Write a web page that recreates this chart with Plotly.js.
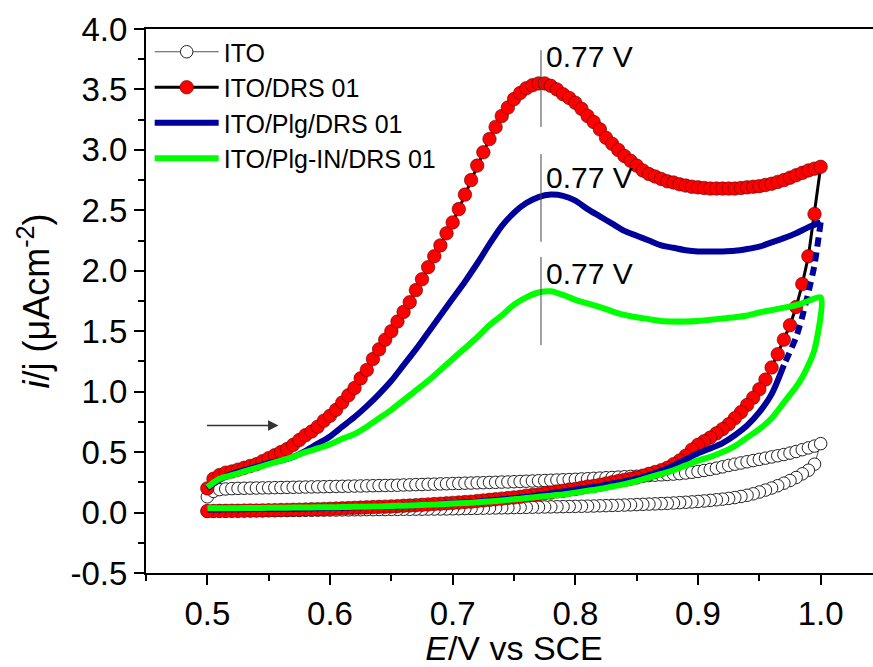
<!DOCTYPE html>
<html>
<head>
<meta charset="utf-8">
<script src="https://cdn.plot.ly/plotly-3.0.1.min.js"></script>
<style>
html,body{margin:0;padding:0;overflow:hidden;background:#fff;}
#chart{width:890px;height:667px;}
</style>
</head>
<body>
<div id="chart"></div>
<script>
// ---- Potentials (V vs SCE) ----
const E_fwd_fine = [0.500,0.505,0.510,0.515,0.520,0.525,0.530,0.535,0.540,0.545,
0.550,0.555,0.560,0.565,0.570,0.575,0.580,0.585,0.590,0.595,
0.600,0.605,0.610,0.615,0.620,0.625,0.630,0.635,0.640,0.645,
0.650,0.655,0.660,0.665,0.670,0.675,0.680,0.685,0.690,0.695,
0.700,0.705,0.710,0.715,0.720,0.725,0.730,0.735,0.740,0.745,
0.750,0.755,0.760,0.765,0.770,0.775,0.780,0.785,0.790,0.795,
0.800,0.805,0.810,0.815,0.820,0.825,0.830,0.835,0.840,0.845,
0.850,0.855,0.860,0.865,0.870,0.875,0.880,0.885,0.890,0.895,
0.900,0.905,0.910,0.915,0.920,0.925,0.930,0.935,0.940,0.945,
0.950,0.955,0.960,0.965,0.970,0.975,0.980,0.985,0.990,0.995,
1.000];
const E_rev_fine = [0.995,0.990,0.985,0.980,0.975,0.970,0.965,0.960,0.955,0.950,
0.945,0.940,0.935,0.930,0.925,0.920,0.915,0.910,0.905,0.900,
0.895,0.890,0.885,0.880,0.875,0.870,0.865,0.860,0.855,0.850,
0.845,0.840,0.835,0.830,0.825,0.820,0.815,0.810,0.805,0.800,
0.795,0.790,0.785,0.780,0.775,0.770,0.765,0.760,0.755,0.750,
0.745,0.740,0.735,0.730,0.725,0.720,0.715,0.710,0.705,0.700,
0.695,0.690,0.685,0.680,0.675,0.670,0.665,0.660,0.655,0.650,
0.645,0.640,0.635,0.630,0.625,0.620,0.615,0.610,0.605,0.600,
0.595,0.590,0.585,0.580,0.575,0.570,0.565,0.560,0.555,0.550,
0.545,0.540,0.535,0.530,0.525,0.520,0.515,0.510,0.505,0.500];
const E_fwd = [0.50,0.51,0.52,0.53,0.54,0.55,0.56,0.57,0.58,0.59,
0.60,0.61,0.62,0.63,0.64,0.65,0.66,0.67,0.68,0.69,
0.70,0.71,0.72,0.73,0.74,0.75,0.76,0.77,0.78,0.79,
0.80,0.81,0.82,0.83,0.84,0.85,0.86,0.87,0.88,0.89,
0.90,0.91,0.92,0.93,0.94,0.95,0.96,0.97,0.98,0.99,1.00];
const E_rev = [0.995,0.99,0.985,0.98,
0.97,0.96,0.95,0.94,0.93,0.92,0.91,0.90,0.89,0.88,
0.87,0.86,0.85,0.84,0.83,0.82,0.81,0.80,0.79,0.78,
0.77,0.76,0.75,0.74,0.73,0.72,0.71,0.70,0.69,0.68,
0.67,0.66,0.65,0.64,0.63,0.62,0.61,0.60,0.59,0.58,
0.57,0.56,0.55,0.54,0.53,0.52,0.51,0.50];

// ---- Currents (uA cm^-2) ----
const ito_fwd = [0.13,0.175,0.19,0.195,0.198,0.20,0.201,0.202,0.203,0.204,
0.205,0.206,0.207,0.208,0.209,0.21,0.211,0.212,0.213,0.214,
0.215,0.216,0.217,0.218,0.219,0.22,0.221,0.222,0.223,0.224,
0.225,0.226,0.228,0.229,0.231,0.232,0.234,0.235,0.237,0.238,
0.24,0.241,0.243,0.244,0.246,0.247,0.249,0.25,0.252,0.253,
0.255,0.257,0.259,0.261,0.263,0.265,0.267,0.269,0.271,0.273,
0.275,0.278,0.28,0.283,0.285,0.288,0.29,0.293,0.296,0.299,
0.30,0.303,0.306,0.309,0.312,0.315,0.318,0.322,0.327,0.333,
0.34,0.348,0.357,0.367,0.378,0.39,0.40,0.41,0.42,0.43,
0.44,0.45,0.46,0.47,0.48,0.492,0.505,0.52,0.535,0.55,
0.57];
const ito_rev = [0.40,0.35,0.32,0.29,0.265,0.243,0.222,0.203,0.186,0.17,
0.155,0.143,0.133,0.124,0.117,0.111,0.106,0.101,0.096,0.092,
0.088,0.085,0.082,0.079,0.076,0.074,0.072,0.07,0.068,0.066,
0.064,0.062,0.06,0.059,0.057,0.056,0.054,0.053,0.052,0.051,
0.05,0.049,0.048,0.047,0.046,0.045,0.044,0.043,0.042,0.041,
0.04,0.039,0.038,0.037,0.036,0.035,0.034,0.033,0.032,0.031,
0.030,0.030,0.029,0.029,0.028,0.028,0.027,0.027,0.026,0.026,
0.025,0.025,0.024,0.024,0.023,0.023,0.022,0.022,0.021,0.021,
0.020,0.020,0.019,0.019,0.018,0.018,0.017,0.017,0.016,0.016,
0.015,0.015,0.014,0.014,0.013,0.013,0.012,0.012,0.011,0.011];

const drs_fwd = [0.20,0.28,0.31,0.33,0.34,0.355,0.37,0.385,0.40,0.425,
0.45,0.475,0.50,0.525,0.56,0.60,0.64,0.67,0.71,0.76,
0.80,0.85,0.91,0.97,1.03,1.11,1.18,1.27,1.35,1.43,
1.50,1.58,1.66,1.74,1.84,1.93,2.03,2.12,2.21,2.31,
2.40,2.51,2.63,2.75,2.87,2.98,3.09,3.19,3.28,3.35,
3.42,3.47,3.51,3.535,3.55,3.55,3.53,3.50,3.46,3.43,
3.39,3.34,3.28,3.23,3.17,3.10,3.05,3.00,2.95,2.91,
2.87,2.83,2.80,2.78,2.76,2.74,2.73,2.715,2.705,2.695,
2.69,2.685,2.68,2.68,2.68,2.68,2.68,2.685,2.69,2.695,
2.70,2.71,2.72,2.735,2.75,2.77,2.79,2.81,2.83,2.845,
2.86];
const drs_rev = [2.47,2.12,1.89,1.70,1.55,1.43,1.31,1.20,1.10,1.02,
0.95,0.89,0.83,0.78,0.73,0.69,0.655,0.62,0.59,0.56,
0.52,0.47,0.43,0.40,0.37,0.35,0.335,0.32,0.305,0.29,
0.28,0.27,0.26,0.25,0.24,0.23,0.22,0.215,0.205,0.195,
0.19,0.18,0.175,0.165,0.16,0.15,0.145,0.14,0.13,0.125,
0.12,0.115,0.11,0.105,0.10,0.095,0.09,0.087,0.083,0.08,
0.076,0.073,0.07,0.067,0.064,0.061,0.058,0.056,0.053,0.051,
0.049,0.047,0.045,0.043,0.041,0.039,0.037,0.035,0.033,0.031,
0.03,0.028,0.027,0.025,0.024,0.023,0.022,0.021,0.02,0.019,
0.018,0.017,0.017,0.016,0.015,0.015,0.014,0.014,0.013,0.012];

const plg_fwd = [0.20,0.27,0.32,0.35,0.38,0.41,0.43,0.46,0.51,0.57,
0.63,0.71,0.79,0.88,0.98,1.09,1.22,1.35,1.49,1.63,
1.77,1.91,2.06,2.22,2.37,2.48,2.56,2.61,2.63,2.62,
2.58,2.51,2.45,2.39,2.33,2.29,2.25,2.21,2.19,2.17,
2.16,2.16,2.16,2.165,2.18,2.20,2.235,2.27,2.31,2.36,2.40];
const plg_rev = [2.05,1.82,1.62,1.45,
1.22,0.98,0.83,0.72,0.64,0.575,0.53,0.49,0.44,0.39,
0.345,0.31,0.28,0.26,0.24,0.22,0.205,0.19,0.175,0.16,
0.145,0.13,0.12,0.11,0.10,0.09,0.085,0.078,0.072,0.066,
0.061,0.057,0.053,0.049,0.046,0.043,0.04,0.038,0.036,0.034,
0.032,0.031,0.03,0.029,0.028,0.027,0.026,0.025];

const plgin_fwd = [0.21,0.28,0.31,0.34,0.37,0.40,0.43,0.46,0.50,0.53,
0.565,0.61,0.65,0.71,0.78,0.85,0.93,1.01,1.09,1.18,
1.27,1.36,1.45,1.55,1.63,1.72,1.78,1.82,1.83,1.80,
1.76,1.73,1.70,1.665,1.635,1.615,1.60,1.585,1.58,1.58,
1.585,1.595,1.605,1.615,1.63,1.655,1.675,1.695,1.715,1.75,1.78];
const plgin_rev = [1.35,1.22,1.12,1.04,
0.91,0.78,0.69,0.62,0.55,0.50,0.46,0.43,0.39,0.35,
0.32,0.29,0.26,0.235,0.215,0.195,0.18,0.165,0.15,0.14,
0.13,0.12,0.11,0.10,0.092,0.085,0.079,0.074,0.069,0.064,
0.06,0.057,0.054,0.051,0.049,0.047,0.045,0.044,0.043,0.042,
0.041,0.04,0.039,0.038,0.037,0.036,0.035,0.035];

const seriesNames = ['ITO','ITO/DRS 01','ITO/Plg/DRS 01','ITO/Plg-IN/DRS 01'];

// Axis ticks
const xTickVals = [0.5,0.6,0.7,0.8,0.9,1.0];
const xTickText = ['0.5','0.6','0.7','0.8','0.9','1.0'];
const yTickVals = [-0.5,0,0.5,1.0,1.5,2.0,2.5,3.0,3.5,4.0];
const yTickText = ['-0.5','0.0','0.5','1.0','1.5','2.0','2.5','3.0','3.5','4.0'];

// Peak annotations
const peakE = [0.772,0.772,0.772];
const peakLineTop = [3.825,2.965,2.115];
const peakLineBottom = [3.19,2.24,1.385];
const peakLabelY = [3.77,2.77,1.98];
const peakLabels = ['0.77 V','0.77 V','0.77 V'];
// scan direction arrow
const arrowE = [0.4985,0.558];
const arrowI = 0.72;

const FONT = 'Liberation Sans, Arial, Helvetica, sans-serif';

// number of reverse points of the blue curve drawn dashed near the vertex
const nDash = 5;
const plgLastE = E_fwd[E_fwd.length-1], plgLastI = plg_fwd[plg_fwd.length-1];

const traces = [
  {x:E_fwd_fine.concat(E_rev_fine), y:ito_fwd.concat(ito_rev), name:seriesNames[0],
   mode:'lines+markers', line:{color:'#555555',width:1},
   marker:{symbol:'circle',size:12.5,color:'#ffffff',line:{color:'#222222',width:1}}},
  {x:E_fwd_fine.concat(E_rev_fine), y:drs_fwd.concat(drs_rev), name:seriesNames[1],
   mode:'lines+markers', line:{color:'#000000',width:3},
   marker:{symbol:'circle',size:13.5,color:'#ff0000',line:{color:'#5a0000',width:0.6}}},
  {x:[plgLastE].concat(E_rev.slice(0,nDash)), y:[plgLastI].concat(plg_rev.slice(0,nDash)),
   mode:'lines', showlegend:false, hoverinfo:'skip',
   line:{color:'#00009a',width:6,dash:'9px,6px',shape:'spline',smoothing:0.6}},
  {x:E_fwd.concat([null],E_rev.slice(nDash-1)), y:plg_fwd.concat([null],plg_rev.slice(nDash-1)),
   name:seriesNames[2], mode:'lines', connectgaps:false,
   line:{color:'#00009a',width:6,shape:'spline',smoothing:0.8}},
  {x:E_fwd.concat(E_rev), y:plgin_fwd.concat(plgin_rev), name:seriesNames[3],
   mode:'lines', line:{color:'#00ff00',width:6,shape:'spline',smoothing:0.8}}
];

const shapes = peakE.map((e,i)=>({type:'line',xref:'x',yref:'y',x0:e,x1:e,
  y0:peakLineBottom[i],y1:peakLineTop[i],line:{color:'#444444',width:1}}));

const annotations = peakE.map((e,i)=>({xref:'x',yref:'y',x:e,y:peakLabelY[i],
  text:peakLabels[i],showarrow:false,xanchor:'left',yanchor:'middle',xshift:3,
  font:{family:FONT,size:30,color:'#000'}}));
annotations.push({xref:'x',yref:'y',axref:'x',ayref:'y',x:arrowE[1],y:arrowI,
  ax:arrowE[0],ay:arrowI,showarrow:true,arrowhead:2,arrowsize:1.6,arrowwidth:1.3,
  arrowcolor:'#333333',text:''});

const layout = {
  width:890, height:667,
  margin:{l:146,r:8,t:29,b:94},
  paper_bgcolor:'#ffffff', plot_bgcolor:'#ffffff',
  showlegend:true,
  legend:{x:0.005,y:1,xanchor:'left',yanchor:'top',bgcolor:'rgba(0,0,0,0)',
    font:{family:FONT,size:25,color:'#000'},itemwidth:64,tracegroupgap:0,
    traceorder:'normal'},
  xaxis:{range:[0.45,1.05],tickmode:'array',tickvals:xTickVals,ticktext:xTickText,
    ticks:'outside',ticklen:10,tickwidth:2,tickcolor:'#000',
    minor:{tickmode:'linear',tick0:0.45,dtick:0.05,ticks:'outside',ticklen:6,tickwidth:2,tickcolor:'#000'},
    showline:true,linecolor:'#000',linewidth:2,mirror:true,showgrid:false,zeroline:false,
    tickfont:{family:FONT,size:33,color:'#000'},
    title:{text:'<i>E</i>/V vs SCE',font:{family:FONT,size:34,color:'#000'},standoff:6}},
  yaxis:{range:[-0.5,4.0],tickmode:'array',tickvals:yTickVals,ticktext:yTickText,
    ticks:'outside',ticklen:10,tickwidth:2,tickcolor:'#000',
    minor:{tickmode:'linear',tick0:0.25,dtick:0.5,ticks:'outside',ticklen:6,tickwidth:2,tickcolor:'#000'},
    showline:true,linecolor:'#000',linewidth:2,mirror:true,showgrid:false,zeroline:false,
    tickfont:{family:FONT,size:33,color:'#000'},
    title:{text:'<i>i</i>/j (μAcm<sup>-2</sup>)',font:{family:FONT,size:36,color:'#000'},standoff:10}},
  shapes:shapes,
  annotations:annotations
};

Plotly.newPlot('chart',traces,layout,{displayModeBar:false,staticPlot:true});
</script>
</body>
</html>
